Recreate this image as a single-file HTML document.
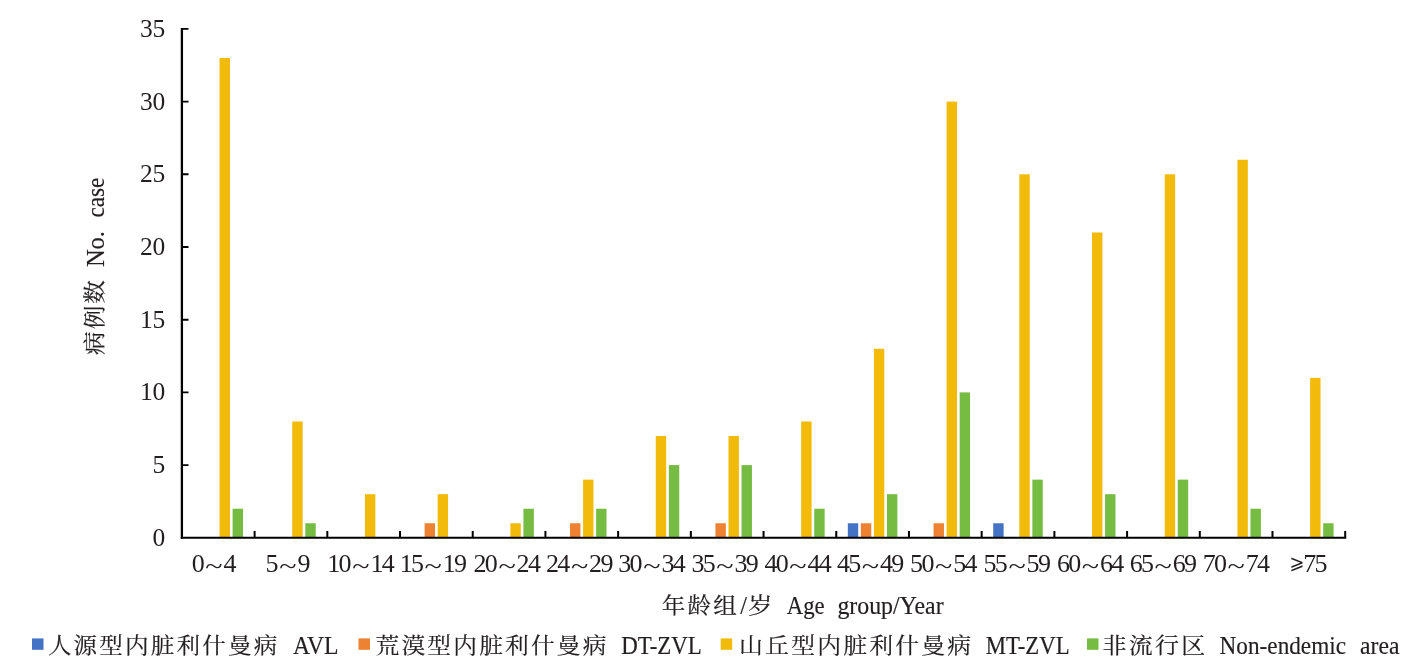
<!DOCTYPE html>
<html lang="zh"><head><meta charset="utf-8"><title>Age group chart</title>
<style>
html,body{margin:0;padding:0;background:#fff;}
body{width:1426px;height:667px;overflow:hidden;}
svg{display:block;}
text{font-family:"Liberation Serif","Noto Serif CJK SC",serif;fill:#231f20;stroke:#231f20;stroke-width:.18px;}
.n{font-size:26px;letter-spacing:-1.7px;stroke:none;}
.td{letter-spacing:0;}
.yl{font-size:25.5px;letter-spacing:-0.3px;}
.c{font-size:21.6px;letter-spacing:2px;}
.l{font-size:24.4px;}
.ge{font-family:"DejaVu Sans","DejaVu Math TeX Gyre","Liberation Serif",sans-serif;font-size:20px;letter-spacing:0;}
</style></head><body>
<svg width="1426" height="667" viewBox="0 0 1426 667">
<rect id="bg" x="0" y="0" width="1426" height="667" fill="#ffffff"/>
<g id="bars">
<rect x="219.55" y="57.98" width="10.4" height="479.82" fill="#F2BA0B"/>
<rect x="232.60" y="508.72" width="10.4" height="29.08" fill="#76BC43"/>
<rect x="292.26" y="421.48" width="10.4" height="116.32" fill="#F2BA0B"/>
<rect x="305.31" y="523.26" width="10.4" height="14.54" fill="#76BC43"/>
<rect x="364.96" y="494.18" width="10.4" height="43.62" fill="#F2BA0B"/>
<rect x="424.62" y="523.26" width="10.4" height="14.54" fill="#EE8233"/>
<rect x="437.67" y="494.18" width="10.4" height="43.62" fill="#F2BA0B"/>
<rect x="510.38" y="523.26" width="10.4" height="14.54" fill="#F2BA0B"/>
<rect x="523.43" y="508.72" width="10.4" height="29.08" fill="#76BC43"/>
<rect x="570.03" y="523.26" width="10.4" height="14.54" fill="#EE8233"/>
<rect x="583.08" y="479.64" width="10.4" height="58.16" fill="#F2BA0B"/>
<rect x="596.13" y="508.72" width="10.4" height="29.08" fill="#76BC43"/>
<rect x="655.79" y="436.02" width="10.4" height="101.78" fill="#F2BA0B"/>
<rect x="668.84" y="465.10" width="10.4" height="72.70" fill="#76BC43"/>
<rect x="715.44" y="523.26" width="10.4" height="14.54" fill="#EE8233"/>
<rect x="728.49" y="436.02" width="10.4" height="101.78" fill="#F2BA0B"/>
<rect x="741.54" y="465.10" width="10.4" height="72.70" fill="#76BC43"/>
<rect x="801.20" y="421.48" width="10.4" height="116.32" fill="#F2BA0B"/>
<rect x="814.25" y="508.72" width="10.4" height="29.08" fill="#76BC43"/>
<rect x="847.81" y="523.26" width="10.4" height="14.54" fill="#4472C4"/>
<rect x="860.86" y="523.26" width="10.4" height="14.54" fill="#EE8233"/>
<rect x="873.91" y="348.78" width="10.4" height="189.02" fill="#F2BA0B"/>
<rect x="886.96" y="494.18" width="10.4" height="43.62" fill="#76BC43"/>
<rect x="933.56" y="523.26" width="10.4" height="14.54" fill="#EE8233"/>
<rect x="946.61" y="101.60" width="10.4" height="436.20" fill="#F2BA0B"/>
<rect x="959.66" y="392.40" width="10.4" height="145.40" fill="#76BC43"/>
<rect x="993.22" y="523.26" width="10.4" height="14.54" fill="#4472C4"/>
<rect x="1019.32" y="174.30" width="10.4" height="363.50" fill="#F2BA0B"/>
<rect x="1032.37" y="479.64" width="10.4" height="58.16" fill="#76BC43"/>
<rect x="1092.02" y="232.46" width="10.4" height="305.34" fill="#F2BA0B"/>
<rect x="1105.08" y="494.18" width="10.4" height="43.62" fill="#76BC43"/>
<rect x="1164.73" y="174.30" width="10.4" height="363.50" fill="#F2BA0B"/>
<rect x="1177.78" y="479.64" width="10.4" height="58.16" fill="#76BC43"/>
<rect x="1237.44" y="159.76" width="10.4" height="378.04" fill="#F2BA0B"/>
<rect x="1250.49" y="508.72" width="10.4" height="29.08" fill="#76BC43"/>
<rect x="1310.14" y="377.86" width="10.4" height="159.94" fill="#F2BA0B"/>
<rect x="1323.19" y="523.26" width="10.4" height="14.54" fill="#76BC43"/>
</g>
<g id="axes" stroke="#000" fill="none">
<path d="M181.90 27.90 V538.80" stroke-width="2.3"/>
<path d="M180.80 537.80 H1346.20" stroke-width="2.0"/>
<path d="M181.90 465.10 h6.6 M181.90 392.40 h6.6 M181.90 319.70 h6.6 M181.90 247.00 h6.6 M181.90 174.30 h6.6 M181.90 101.60 h6.6 M181.90 28.90 h6.6" stroke-width="1.9"/>
<path d="M254.61 537.80 v-6.8 M327.31 537.80 v-6.8 M400.02 537.80 v-6.8 M472.73 537.80 v-6.8 M545.43 537.80 v-6.8 M618.14 537.80 v-6.8 M690.84 537.80 v-6.8 M763.55 537.80 v-6.8 M836.26 537.80 v-6.8 M908.96 537.80 v-6.8 M981.67 537.80 v-6.8 M1054.38 537.80 v-6.8 M1127.08 537.80 v-6.8 M1199.79 537.80 v-6.8 M1272.49 537.80 v-6.8 M1345.20 537.80 v-6.8" stroke-width="2.0"/>
</g>
<g id="ylab">
<text class="n yl" x="164.9" y="545.70" text-anchor="end">0</text>
<text class="n yl" x="164.9" y="473.00" text-anchor="end">5</text>
<text class="n yl" x="164.9" y="400.30" text-anchor="end">10</text>
<text class="n yl" x="164.9" y="327.60" text-anchor="end">15</text>
<text class="n yl" x="164.9" y="254.90" text-anchor="end">20</text>
<text class="n yl" x="164.9" y="182.20" text-anchor="end">25</text>
<text class="n yl" x="164.9" y="109.50" text-anchor="end">30</text>
<text class="n yl" x="164.9" y="36.80" text-anchor="end">35</text>
</g>
<g id="txt">
<text id="x0" class="n" x="191.70" y="572.00">0<tspan class="td" dx="2.3" dy="1.7" textLength="17.3" lengthAdjust="spacingAndGlyphs">~</tspan><tspan dx="0.9" dy="-1.7">4</tspan></text>
<text id="x1" class="n" x="265.60" y="572.00">5<tspan class="td" dx="2.3" dy="1.7" textLength="17.3" lengthAdjust="spacingAndGlyphs">~</tspan><tspan dx="0.9" dy="-1.7">9</tspan></text>
<text id="x2" class="n" x="327.30" y="572.00">10<tspan class="td" dx="2.3" dy="1.7" textLength="17.3" lengthAdjust="spacingAndGlyphs">~</tspan><tspan dx="0.9" dy="-1.7">14</tspan></text>
<text id="x3" class="n" x="399.70" y="572.00">15<tspan class="td" dx="2.3" dy="1.7" textLength="17.3" lengthAdjust="spacingAndGlyphs">~</tspan><tspan dx="0.9" dy="-1.7">19</tspan></text>
<text id="x4" class="n" x="473.50" y="572.00">20<tspan class="td" dx="2.3" dy="1.7" textLength="17.3" lengthAdjust="spacingAndGlyphs">~</tspan><tspan dx="0.9" dy="-1.7">24</tspan></text>
<text id="x5" class="n" x="546.00" y="572.00">24<tspan class="td" dx="2.3" dy="1.7" textLength="17.3" lengthAdjust="spacingAndGlyphs">~</tspan><tspan dx="0.9" dy="-1.7">29</tspan></text>
<text id="x6" class="n" x="618.30" y="572.00">30<tspan class="td" dx="2.3" dy="1.7" textLength="17.3" lengthAdjust="spacingAndGlyphs">~</tspan><tspan dx="0.9" dy="-1.7">34</tspan></text>
<text id="x7" class="n" x="691.40" y="572.00">35<tspan class="td" dx="2.3" dy="1.7" textLength="17.3" lengthAdjust="spacingAndGlyphs">~</tspan><tspan dx="0.9" dy="-1.7">39</tspan></text>
<text id="x8" class="n" x="764.40" y="572.00">40<tspan class="td" dx="2.3" dy="1.7" textLength="17.3" lengthAdjust="spacingAndGlyphs">~</tspan><tspan dx="0.9" dy="-1.7">44</tspan></text>
<text id="x9" class="n" x="836.90" y="572.00">45<tspan class="td" dx="2.3" dy="1.7" textLength="17.3" lengthAdjust="spacingAndGlyphs">~</tspan><tspan dx="0.9" dy="-1.7">49</tspan></text>
<text id="x10" class="n" x="910.10" y="572.00">50<tspan class="td" dx="2.3" dy="1.7" textLength="17.3" lengthAdjust="spacingAndGlyphs">~</tspan><tspan dx="0.9" dy="-1.7">54</tspan></text>
<text id="x11" class="n" x="983.50" y="572.00">55<tspan class="td" dx="2.3" dy="1.7" textLength="17.3" lengthAdjust="spacingAndGlyphs">~</tspan><tspan dx="0.9" dy="-1.7">59</tspan></text>
<text id="x12" class="n" x="1056.90" y="572.00">60<tspan class="td" dx="2.3" dy="1.7" textLength="17.3" lengthAdjust="spacingAndGlyphs">~</tspan><tspan dx="0.9" dy="-1.7">64</tspan></text>
<text id="x13" class="n" x="1129.70" y="572.00">65<tspan class="td" dx="2.3" dy="1.7" textLength="17.3" lengthAdjust="spacingAndGlyphs">~</tspan><tspan dx="0.9" dy="-1.7">69</tspan></text>
<text id="x14" class="n" x="1202.70" y="572.00">70<tspan class="td" dx="2.3" dy="1.7" textLength="17.3" lengthAdjust="spacingAndGlyphs">~</tspan><tspan dx="0.9" dy="-1.7">74</tspan></text>
<text id="x15" class="n" x="1289.50" y="572.00"><tspan class="ge" dy="-2.6" textLength="15" lengthAdjust="spacingAndGlyphs">⩾</tspan><tspan dx="-1.2" dy="2.6">75</tspan></text>
<text><tspan id="xt1" class="c" x="661.80" y="612.50" textLength="77.20" lengthAdjust="spacingAndGlyphs">年龄组</tspan><tspan id="xt2" class="l" x="740.35" y="613.70">/</tspan><tspan id="xt3" class="c" x="748.10" y="612.50" textLength="26.80" lengthAdjust="spacingAndGlyphs">岁</tspan> <tspan id="xt4" class="l" x="786.80" y="613.80" textLength="37.90" lengthAdjust="spacingAndGlyphs">Age</tspan> <tspan id="xt5" class="l" x="837.40" y="613.80" textLength="106.20" lengthAdjust="spacingAndGlyphs">group/Year</tspan></text>
<text transform="rotate(-90)"><tspan id="yt1" class="c" x="-355.10" y="102.10" textLength="77.20" lengthAdjust="spacingAndGlyphs">病例数</tspan> <tspan id="yt2" class="l" x="-267.10" y="103.90" textLength="36.10" lengthAdjust="spacingAndGlyphs">No.</tspan> <tspan id="yt3" class="l" x="-217.60" y="103.90" textLength="39.90" lengthAdjust="spacingAndGlyphs">case</tspan></text>
<text><tspan id="l1c" class="c" x="47.90" y="653.40" textLength="231.50" lengthAdjust="spacingAndGlyphs">人源型内脏利什曼病</tspan> <tspan id="l1e" class="l" x="292.90" y="654.30" textLength="45.70" lengthAdjust="spacingAndGlyphs">AVL</tspan></text>
<text><tspan id="l2c" class="c" x="375.50" y="653.40" textLength="233.20" lengthAdjust="spacingAndGlyphs">荒漠型内脏利什曼病</tspan> <tspan id="l2e" class="l" x="621.30" y="654.30" textLength="80.50" lengthAdjust="spacingAndGlyphs">DT-ZVL</tspan></text>
<text><tspan id="l3c" class="c" x="739.10" y="653.40" textLength="234.30" lengthAdjust="spacingAndGlyphs">山丘型内脏利什曼病</tspan> <tspan id="l3e" class="l" x="985.70" y="654.30" textLength="83.90" lengthAdjust="spacingAndGlyphs">MT-ZVL</tspan></text>
<text><tspan id="l4c" class="c" x="1102.60" y="653.40" textLength="104.90" lengthAdjust="spacingAndGlyphs">非流行区</tspan> <tspan id="l4e" class="l" x="1219.60" y="654.30" textLength="126.40" lengthAdjust="spacingAndGlyphs">Non-endemic</tspan> <tspan id="l5e" class="l" x="1360.10" y="654.30" textLength="39.40" lengthAdjust="spacingAndGlyphs">area</tspan></text>
</g>
<g id="leg">
<rect x="32.0" y="638.4" width="11.5" height="11.4" fill="#4472C4"/>
<rect x="358.5" y="638.4" width="11.5" height="11.4" fill="#EE8233"/>
<rect x="720.7" y="638.4" width="11.5" height="11.4" fill="#F2BA0B"/>
<rect x="1087.0" y="638.4" width="11.5" height="11.4" fill="#76BC43"/>
</g>
</svg>
</body></html>
